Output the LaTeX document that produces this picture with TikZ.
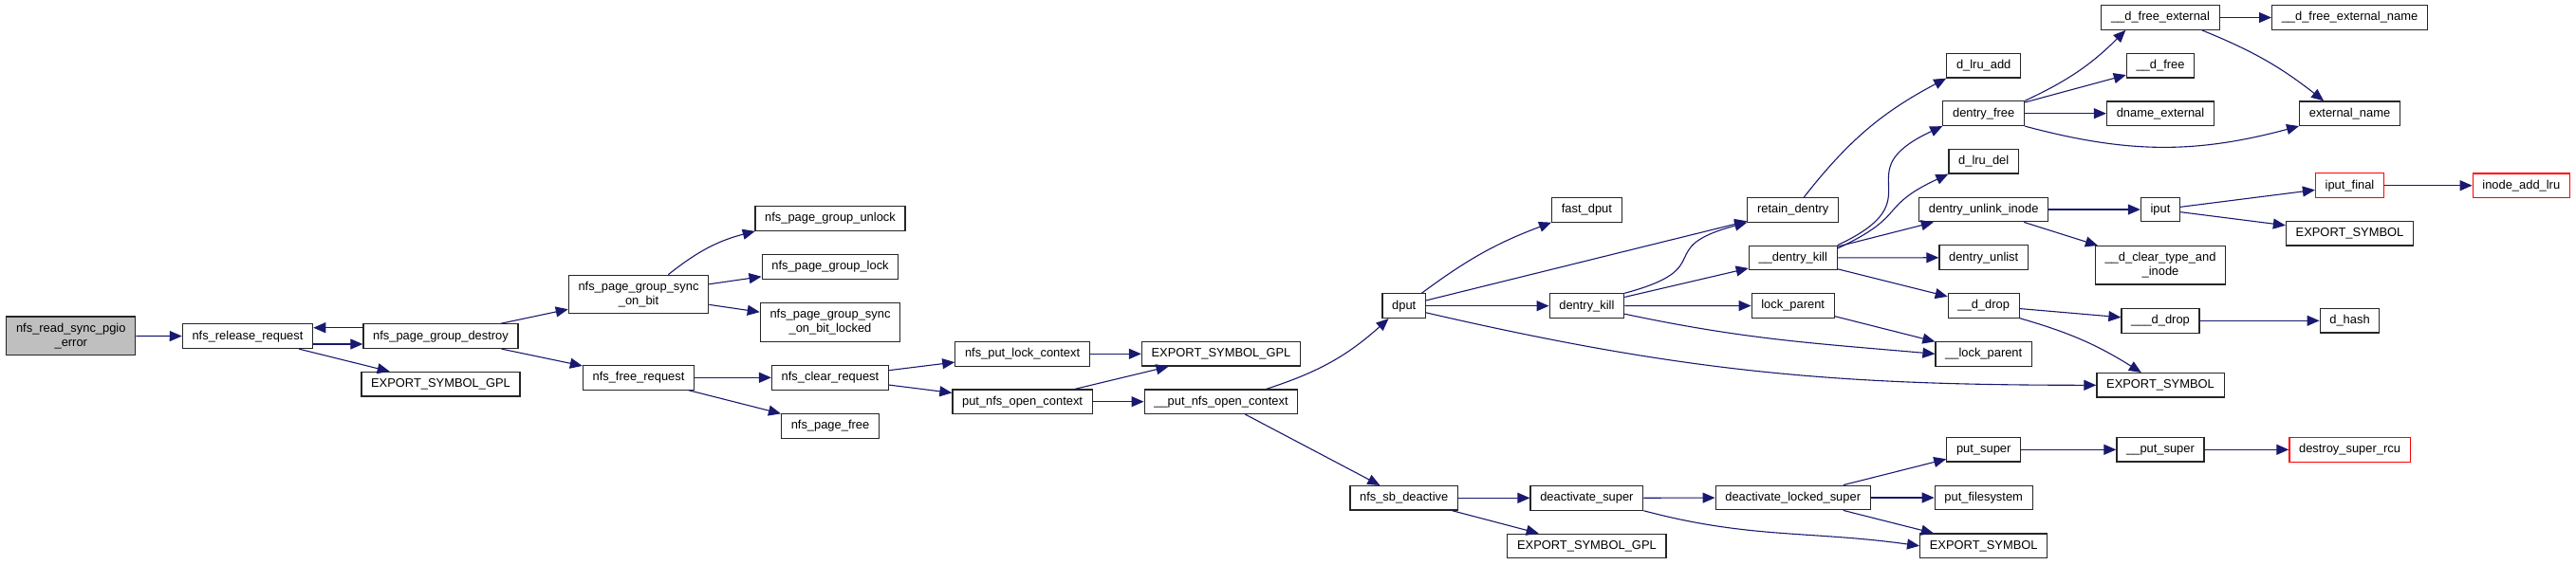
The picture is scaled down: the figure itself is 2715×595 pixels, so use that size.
\documentclass[tikz,border=0pt]{standalone}
\usepackage{fontspec}
\setmainfont{Liberation Sans}
\usepackage{tikz}
\usetikzlibrary{arrows.meta,positioning}
\definecolor{cgEdge}{HTML}{191970}
\definecolor{cgBorder}{HTML}{262626}
\definecolor{cgRootFill}{HTML}{BFBFBF}
\definecolor{cgTrunc}{HTML}{FF0000}
\tikzset{
    cgBoxBase/.style={
        rectangle,
        draw=cgBorder,
        fill=white,
        line width=0.6pt,
        minimum height=12.75pt,
        inner xsep=5.1pt,
        inner ysep=3.4pt,
        font=\fontsize{6.45}{7.5}\selectfont,
        align=center
    },
    % Node variants
    cgNode/.style={cgBoxBase},
    cgRoot/.style={cgBoxBase, fill=cgRootFill},
    cgTruncated/.style={cgBoxBase, draw=cgTrunc},
    % Arrows
    cgArrow/.style={->, >={Triangle[length=6.5pt,width=5.5pt]}, line width=0.55pt, draw=cgEdge}
}

\begin{document}
\begin{tikzpicture}[x=0.5pt, y=-0.5pt]
    \useasboundingbox[fill=white] (0,0) rectangle (2715,595);

    % column 1-3
    \node[cgRoot] (root) at (74.8,354.3) {nfs\_read\_sync\_pgio\\\_error};
    \node[cgNode] (relreq) at (261,354.7) {nfs\_release\_request};
    \node[cgNode] (pgdestroy) at (464.5,354.7) {nfs\_page\_group\_destroy};
    \node[cgNode] (esgplA) at (464.5,405.2) {EXPORT\_SYMBOL\_GPL};

    % column 4-5
    \node[cgNode] (syncbit) at (673,310.5) {nfs\_page\_group\_sync\\\_on\_bit};
    \node[cgNode] (freereq) at (673,398.3) {nfs\_free\_request};
    \node[cgNode] (pgunlock) at (875,230.5) {nfs\_page\_group\_unlock};
    \node[cgNode] (pglock) at (875,281.3) {nfs\_page\_group\_lock};
    \node[cgNode] (syncbitlk) at (875,340) {nfs\_page\_group\_sync\\\_on\_bit\_locked};
    \node[cgNode] (clearreq) at (875,398.3) {nfs\_clear\_request};
    \node[cgNode] (pagefree) at (875,449.5) {nfs\_page\_free};

    % column 6-7
    \node[cgNode] (putlock) at (1077.6,373.3) {nfs\_put\_lock\_context};
    \node[cgNode] (putopen) at (1077.6,423.7) {put\_nfs\_open\_context};
    \node[cgNode] (esgplB) at (1287,373.3) {EXPORT\_SYMBOL\_GPL};
    \node[cgNode] (putopenB) at (1287,423.7) {\_\_put\_nfs\_open\_context};

    % column 8-10
    \node[cgNode] (dput) at (1479.7,322.7) {dput};
    \node[cgNode] (sbdeact) at (1479.7,525.3) {nfs\_sb\_deactive};
    \node[cgNode] (fastdput) at (1672.4,221.3) {fast\_dput};
    \node[cgNode] (dkill) at (1672.4,322.7) {dentry\_kill};
    \node[cgNode] (deactsuper) at (1672.4,525.3) {deactivate\_super};
    \node[cgNode] (esgplC) at (1672.4,576) {EXPORT\_SYMBOL\_GPL};
    \node[cgNode] (retain) at (1889.7,221.3) {retain\_dentry};
    \node[cgNode] (dkillB) at (1889.7,272) {\_\_dentry\_kill};
    \node[cgNode] (lockpar) at (1889.7,322.5) {lock\_parent};
    \node[cgNode] (deactlocked) at (1889.7,525) {deactivate\_locked\_super};

    % column 11
    \node[cgNode] (lruadd) at (2090.7,69.3) {d\_lru\_add};
    \node[cgNode] (dfree) at (2090.7,119.7) {dentry\_free};
    \node[cgNode] (lrudel) at (2090.7,170.3) {d\_lru\_del};
    \node[cgNode] (unlinkinode) at (2090.7,221) {dentry\_unlink\_inode};
    \node[cgNode] (unlist) at (2090.7,271.7) {dentry\_unlist};
    \node[cgNode] (ddrop) at (2090.7,322.3) {\_\_d\_drop};
    \node[cgNode] (lockparB) at (2090.7,373.3) {\_\_lock\_parent};
    \node[cgNode] (putsuper) at (2090.7,474.3) {put\_super};
    \node[cgNode] (putfs) at (2090.7,525) {put\_filesystem};
    \node[cgNode] (esC) at (2090.7,575.8) {EXPORT\_SYMBOL};

    % column 12
    \node[cgNode] (dfreeext) at (2277,18.5) {\_\_d\_free\_external};
    \node[cgNode] (dfreeB) at (2277,69.3) {\_\_d\_free};
    \node[cgNode] (dnameext) at (2277,119.7) {dname\_external};
    \node[cgNode] (iputn) at (2277,221) {iput};
    \node[cgNode] (cleartype) at (2277,279.8) {\_\_d\_clear\_type\_and\\\_inode};
    \node[cgNode] (dddrop) at (2277,338.3) {\_\_\_d\_drop};
    \node[cgNode] (esB) at (2277,406.3) {EXPORT\_SYMBOL};
    \node[cgNode] (putsuperB) at (2277,474.3) {\_\_put\_super};

    % column 13-14
    \node[cgNode] (dfreeextname) at (2476.5,18.5) {\_\_d\_free\_external\_name};
    \node[cgNode] (extname) at (2476.5,119.7) {external\_name};
    \node[cgTruncated] (iputfinal) at (2476.5,195.7) {iput\_final};
    \node[cgNode] (esA) at (2476.5,246.3) {EXPORT\_SYMBOL};
    \node[cgNode] (dhash) at (2476.5,338.3) {d\_hash};
    \node[cgTruncated] (destroyrcu) at (2476.5,474.3) {destroy\_super\_rcu};
    \node[cgTruncated] (inodelru) at (2657.3,195.7) {inode\_add\_lru};

    % calls
    \draw[cgArrow] (root) -- (relreq);
    \draw[cgArrow] ([yshift=-4.15pt]relreq.east) -- ([yshift=-4.15pt]pgdestroy.west);
    \draw[cgArrow] ([yshift=4.5pt]pgdestroy.west) -- ([yshift=4.5pt]relreq.east);
    \draw[cgArrow] (relreq) -- (esgplA);
    \draw[cgArrow] (pgdestroy) -- (syncbit);
    \draw[cgArrow] (pgdestroy) -- (freereq);
    \draw[cgArrow] (syncbit) to[bend left=12] (pgunlock);
    \draw[cgArrow] (syncbit) -- (pglock);
    \draw[cgArrow] (syncbit) -- (syncbitlk);
    \draw[cgArrow] (freereq) -- (clearreq);
    \draw[cgArrow] (freereq) -- (pagefree);
    \draw[cgArrow] (clearreq) -- (putlock);
    \draw[cgArrow] (clearreq) -- (putopen);
    \draw[cgArrow] (putlock) -- (esgplB);
    \draw[cgArrow] (putopen) -- (esgplB);
    \draw[cgArrow] (putopen) -- (putopenB);
    \draw[cgArrow] (putopenB) to[bend right=12] (dput);
    \draw[cgArrow] (putopenB) -- (sbdeact);

    \draw[cgArrow] (dput) to[bend left=8] (fastdput);
    \draw[cgArrow] (dput) -- (retain);
    \draw[cgArrow] (dput) -- (dkill);
    \draw[cgArrow] (dput.-17) to[out=-13, in=180] (esB.west);
    \draw[cgArrow] (dkill.north east) to[out=15, in=195, looseness=1.8] (retain.south west);
    \draw[cgArrow] (dkill) -- (dkillB);
    \draw[cgArrow] (dkill) -- (lockpar);
    \draw[cgArrow] (dkill.-12) to[out=-12, in=175] (lockparB.west);
    \draw[cgArrow] (lockpar) -- (lockparB);
    \draw[cgArrow] (retain.49) to[bend left=12] (lruadd.south west);

    \draw[cgArrow] (dkillB.north east) to[out=25, in=205, looseness=1.8] (dfree.south west);
    \draw[cgArrow] (dkillB.12) to[out=25, in=205, looseness=1.5] (lrudel.south west);
    \draw[cgArrow] (dkillB) -- (unlinkinode);
    \draw[cgArrow] (dkillB) -- (unlist);
    \draw[cgArrow] (dkillB) -- (ddrop);

    \draw[cgArrow] (dfree.north east) to[out=25, in=225] (dfreeext.-160);
    \draw[cgArrow] (dfree) -- (dfreeB);
    \draw[cgArrow] (dfree) -- (dnameext);
    \draw[cgArrow] (dfree.south east) to[out=-15, in=195] (extname.south west);
    \draw[cgArrow] (dfreeext) -- (dfreeextname);
    \draw[cgArrow] (dfreeext.-17) to[bend left=8] (extname.154);

    \draw[cgArrow] (unlinkinode) -- (iputn);
    \draw[cgArrow] (unlinkinode) -- (cleartype);
    \draw[cgArrow] (iputn) -- (iputfinal);
    \draw[cgArrow] (iputn) -- (esA);
    \draw[cgArrow] (iputfinal) -- (inodelru);

    \draw[cgArrow] (ddrop) -- (dddrop);
    \draw[cgArrow] (ddrop.south east) to[bend left=8] (esB);
    \draw[cgArrow] (dddrop) -- (dhash);

    \draw[cgArrow] (sbdeact) -- (deactsuper);
    \draw[cgArrow] (sbdeact) -- (esgplC);
    \draw[cgArrow] (deactsuper) -- (deactlocked);
    \draw[cgArrow] (deactsuper.south east) to[out=-15, in=172] (esC.west);
    \draw[cgArrow] (deactlocked) -- (putsuper);
    \draw[cgArrow] (deactlocked) -- (putfs);
    \draw[cgArrow] (deactlocked) -- (esC);
    \draw[cgArrow] (putsuper) -- (putsuperB);
    \draw[cgArrow] (putsuperB) -- (destroyrcu);
\end{tikzpicture}
\end{document}
